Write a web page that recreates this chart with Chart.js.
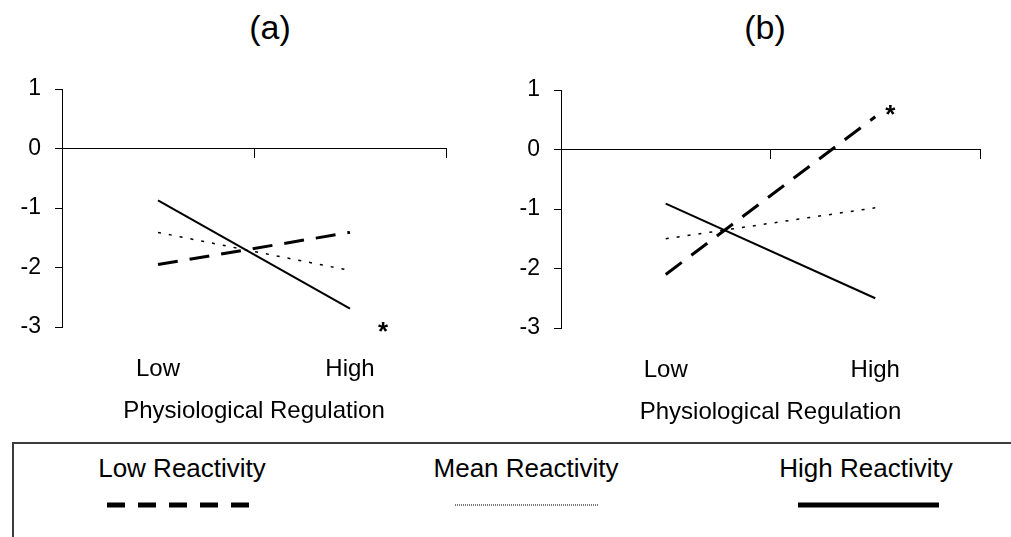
<!DOCTYPE html>
<html>
<head>
<meta charset="utf-8">
<script src="https://cdn.jsdelivr.net/npm/chart.js@4.4.1/dist/chart.umd.min.js"></script>
<style>
  html, body { margin: 0; padding: 0; background: #fff; }
  body { width: 1011px; height: 537px; overflow: hidden; position: relative; font-family: "Liberation Sans", Arial, sans-serif; color: #000; }
  canvas { position: absolute; }
  .ttl { position: absolute; font-size: 34px; line-height: 34px; width: 100px; text-align: center; }
  #legendBox { position: absolute; left: 12px; top: 442px; width: 1100px; height: 200px; border-top: 2px solid #3c3c3c; border-left: 2px solid #3c3c3c; }
  .lg { position: absolute; font-size: 26px; line-height: 26px; width: 260px; text-align: center; white-space: nowrap; }
</style>
</head>
<body>
<div class="ttl" style="left:220px; top:10px;">(a)</div>
<div class="ttl" style="left:715px; top:10px;">(b)</div>
<canvas id="chartA" width="452" height="367" style="left:0px; top:60px;"></canvas>
<canvas id="chartB" width="486" height="368" style="left:500px; top:60px;"></canvas>
<div id="legendBox"></div>
<div class="lg" style="left:52px; top:455px;">Low Reactivity</div>
<div class="lg" style="left:396px; top:455px;">Mean Reactivity</div>
<div class="lg" style="left:736px; top:455px;">High Reactivity</div>
<canvas id="legendLines" width="1011" height="30" style="left:0px; top:490px;"></canvas>
<script>
// ---- data ----
const categories = ['Low', 'High'];
const axisTitle = 'Physiological Regulation';
const seriesNames = ['Low Reactivity', 'Mean Reactivity', 'High Reactivity'];
const yMin = -3, yMax = 1, yStep = 1;

// panel (a)
const lowA  = [-1.95, -1.41];
const meanA = [-1.41, -2.05];
const highA = [-0.87, -2.69];
const starA = { category: 'High', value: -3 };

// panel (b)
const lowB  = [-2.10, 0.55];
const meanB = [-1.50, -0.98];
const highB = [-0.91, -2.50];
const starB = { category: 'High', value: 0.7 };

// ---- styles ----
const FONT = '"Liberation Sans", Arial, sans-serif';
const styleLow  = { borderColor: '#000', borderWidth: 3, borderDash: [20, 12] };
const styleMean = { borderColor: '#000', borderWidth: 1.5, borderDash: [3, 8] };
const styleHigh = { borderColor: '#000', borderWidth: 2, borderDash: [] };

function makeDatasets(low, mean, high) {
  return [
    Object.assign({ label: seriesNames[0], data: low }, styleLow),
    Object.assign({ label: seriesNames[1], data: mean }, styleMean),
    Object.assign({ label: seriesNames[2], data: high }, styleHigh)
  ].map(d => Object.assign(d, { pointRadius: 0, tension: 0, fill: false, xAxisID: 'x', yAxisID: 'y' }));
}

function starPlugin(star, dx, dy) {
  return {
    id: 'star',
    afterDatasetsDraw(chart) {
      const ctx = chart.ctx;
      const px = chart.scales.x.getPixelForValue(categories.indexOf(star.category)) + dx;
      const py = chart.scales.y.getPixelForValue(star.value) + dy;
      ctx.save();
      ctx.fillStyle = '#000';
      ctx.font = 'bold 26px ' + FONT;
      ctx.textAlign = 'center';
      ctx.textBaseline = 'alphabetic';
      ctx.fillText('*', px, py + 15);
      ctx.restore();
    }
  };
}

function makeChart(id, low, mean, high, padTop, yWidth, star, sdx, sdy) {
  return new Chart(document.getElementById(id), {
    type: 'line',
    data: { labels: categories, datasets: makeDatasets(low, mean, high) },
    options: {
      responsive: false,
      animation: false,
      devicePixelRatio: 1,
      layout: { padding: { top: padTop, right: 6, bottom: 0, left: 0 } },
      plugins: { legend: { display: false }, tooltip: { enabled: false }, title: { display: false } },
      scales: {
        x: {
          type: 'category',
          position: { y: 0 },
          offset: true,
          grid: { offset: true, drawOnChartArea: false, color: '#000', tickLength: 9, lineWidth: 1 },
          border: { display: true, color: '#000', width: 1 },
          ticks: { display: false }
        },
        xLab: {
          type: 'category',
          labels: categories,
          position: 'bottom',
          offset: true,
          grid: { display: false },
          border: { display: false },
          ticks: { color: '#000', font: { family: FONT, size: 24 }, padding: 20, maxRotation: 0 },
          title: { display: true, text: axisTitle, color: '#000', font: { family: FONT, size: 24 }, padding: { top: 0, bottom: 1 } },
          afterFit: s => { s.height = 100; }
        },
        y: {
          min: yMin, max: yMax,
          ticks: { stepSize: yStep, color: '#000', font: { family: FONT, size: 23 }, padding: 14 },
          grid: { drawOnChartArea: false, color: '#000', tickLength: 7, lineWidth: 1 },
          border: { display: true, color: '#000', width: 1 },
          afterFit: s => { s.width = yWidth; }
        }
      }
    },
    plugins: [starPlugin(star, sdx, sdy)]
  });
}

makeChart('chartA', lowA, meanA, highA, 29, 62, starA, 33, -2);
makeChart('chartB', lowB, meanB, highB, 30, 61, starB, 15, 0);

// legend sample lines
(function () {
  const c = document.getElementById('legendLines').getContext('2d');
  const y = 15;
  c.lineCap = 'butt';
  // low: dashed
  c.strokeStyle = '#000'; c.lineWidth = 5; c.setLineDash([18, 13]);
  c.beginPath(); c.moveTo(107, y); c.lineTo(250, y); c.stroke();
  // mean: fine dotted
  c.strokeStyle = '#777'; c.lineWidth = 2; c.setLineDash([1, 1]);
  c.beginPath(); c.moveTo(455, y); c.lineTo(598, y); c.stroke();
  // high: solid
  c.strokeStyle = '#000'; c.lineWidth = 5; c.setLineDash([]);
  c.beginPath(); c.moveTo(798, y); c.lineTo(939, y); c.stroke();
})();
</script>
</body>
</html>
